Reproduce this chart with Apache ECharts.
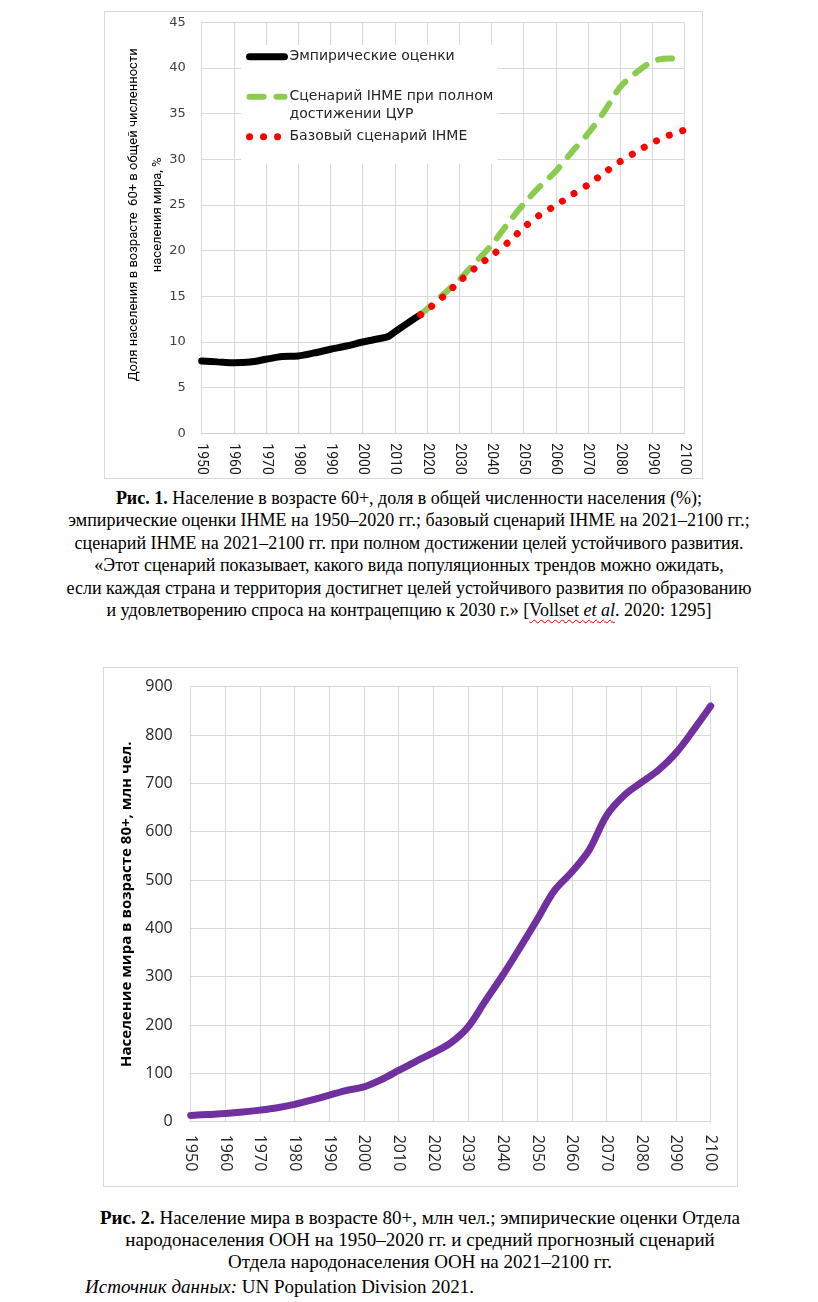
<!DOCTYPE html>
<html>
<head>
<meta charset="utf-8">
<script src="https://cdn.jsdelivr.net/npm/echarts@6/dist/echarts.min.js"></script>
<style>
html,body{margin:0;padding:0;background:#fff;width:818px;height:1302px;overflow:hidden;}
.chart{position:absolute;}
.box{position:absolute;border:1px solid #d9d9d9;pointer-events:none;box-sizing:border-box;}
#c1{left:104px;top:11px;width:599px;height:468px;}
#b1{left:104px;top:11px;width:599px;height:468px;}
#c2{left:103px;top:667px;width:635px;height:520px;}
#b2{left:103px;top:667px;width:635px;height:520px;}
.cap{position:absolute;text-align:center;font-family:'Liberation Serif','Times New Roman',serif;color:#000;white-space:nowrap;}
#cap1{left:0;width:818px;top:487px;font-size:18px;line-height:22.4px;}
#cap2{left:11px;width:818px;top:1207px;font-size:19px;line-height:22px;}
#src{position:absolute;left:85px;top:1276px;font-family:'Liberation Serif','Times New Roman',serif;font-size:19px;line-height:22.4px;white-space:nowrap;}
.wavy{text-decoration:underline wavy #e00000;text-decoration-thickness:1px;text-underline-offset:3px;}
</style>
</head>
<body>
<div id="c1" class="chart"></div>
<div id="b1" class="box"></div>
<div id="cap1" class="cap">
<div><b>Рис. 1.</b> Население в возрасте 60+, доля в общей численности населения (%);</div>
<div>эмпирические оценки IHME на 1950–2020 гг.; базовый сценарий IHME на 2021–2100 гг.;</div>
<div>сценарий IHME на 2021–2100 гг. при полном достижении целей устойчивого развития.</div>
<div>«Этот сценарий показывает, какого вида популяционных трендов можно ожидать,</div>
<div>если каждая страна и территория достигнет целей устойчивого развития по образованию</div>
<div>и удовлетворению спроса на контрацепцию к 2030 г.» [<span class="wavy">Vollset <i>et al</i></span>. 2020: 1295]</div>
</div>
<div id="c2" class="chart"></div>
<div id="b2" class="box"></div>
<div id="cap2" class="cap">
<div><b>Рис. 2.</b> Население мира в возрасте 80+, млн чел.; эмпирические оценки Отдела</div>
<div>народонаселения ООН на 1950–2020 гг. и средний прогнозный сценарий</div>
<div>Отдела народонаселения ООН на 2021–2100 гг.</div>
</div>
<div id="src"><i>Источник данных:</i> UN Population Division 2021.</div>
<script>
// ---------- Chart 1 data ----------
const empYears = [1950, 1955, 1960, 1965, 1970, 1975, 1980, 1985, 1990, 1995, 2000, 2005, 2008, 2010, 2015, 2018];
const empirical = [7.92, 7.82, 7.73, 7.8, 8.1, 8.4, 8.46, 8.8, 9.2, 9.56, 10.0, 10.35, 10.6, 11.1, 12.3, 13.0];
const projYears = [2018, 2020, 2025, 2030, 2035, 2040, 2045, 2050, 2055, 2060, 2065, 2070, 2075, 2080, 2085, 2090, 2095, 2100];
const sdgScenario = [13.0, 13.6, 15.2, 16.8, 18.7, 20.6, 22.9, 25.1, 27.0, 28.7, 30.8, 32.8, 35.2, 37.9, 39.5, 40.7, 41.05, 41.0];
const baseScenario = [13.0, 13.5, 14.95, 16.6, 18.1, 19.45, 20.85, 22.5, 23.9, 24.95, 26.1, 27.2, 28.5, 29.75, 30.8, 31.8, 32.6, 33.2];
const seriesNames1 = ['Эмпирические оценки', 'Сценарий IHME при полном\nдостижении ЦУР', 'Базовый сценарий IHME'];
const yAxis1Name = 'Доля населения в возрасте  60+ в общей численности\nнаселения мира, %';
const xRange = [1950, 2100, 10];
const yRange1 = [0, 45, 5];

// ---------- Chart 2 data ----------
const years2 = [1950, 1955, 1960, 1965, 1970, 1975, 1980, 1985, 1990, 1995, 2000, 2005, 2010, 2015, 2020, 2025, 2030, 2035, 2040, 2045, 2050, 2055, 2060, 2065, 2070, 2075, 2080, 2085, 2090, 2095, 2100];
const pop80 = [13, 15, 17, 20, 24, 29, 36, 45, 55, 65, 72, 87, 106, 125, 143, 163, 196, 250, 303, 360, 419, 479, 517, 563, 634, 675, 702, 728, 763, 810, 860];
const yAxis2Name = 'Население мира в возрасте 80+, млн чел.';
const yRange2 = [0, 900, 100];

function zip(xs, ys) { return xs.map((x, i) => [x, ys[i]]); }

const gridColor = '#d9d9d9';

// ---------- Chart 1 ----------
const ch1 = echarts.init(document.getElementById('c1'), null, {renderer: 'canvas'});
const dashGreen = [14, 13];
const dotRed = [0.1, 13.9];
ch1.setOption({
  animation: false,
  backgroundColor: 'transparent',
  grid: {left: 97.7, top: 11.3, width: 482.8, height: 411, containLabel: false},
  legend: {
    orient: 'vertical', left: 137, top: 34,
    backgroundColor: '#ffffff',
    padding: [3, 4, 18, 5],
    itemWidth: 35, itemHeight: 8, itemGap: 5,
    selectedMode: false,
    itemStyle: {opacity: 0},
    textStyle: {fontFamily: 'DejaVu Sans', fontSize: 14, color: '#262626', lineHeight: 17.5},
    data: [
      {name: seriesNames1[0], lineStyle: {width: 7, color: '#000000', type: 'solid', cap: 'round'}},
      {name: seriesNames1[1], lineStyle: {width: 6, color: '#8ccb4e', type: dashGreen, cap: 'round'}},
      {name: seriesNames1[2], lineStyle: {width: 7, color: '#ff0000', type: dotRed, cap: 'round'}}
    ],
    formatter: function (n) { return n === seriesNames1[1] ? '\n' + n : n; }
  },
  xAxis: {
    type: 'value', min: xRange[0], max: xRange[1], interval: xRange[2],
    axisLine: {show: true, lineStyle: {color: '#cfcfcf', width: 1}},
    axisTick: {show: false},
    splitLine: {show: true, lineStyle: {color: gridColor, width: 1}},
    axisLabel: {rotate: -90, margin: 10, fontFamily: 'Roboto', fontSize: 14, color: '#1a1a1a', formatter: v => String(v)}
  },
  yAxis: {
    type: 'value', min: yRange1[0], max: yRange1[1], interval: yRange1[2],
    name: yAxis1Name, nameLocation: 'middle', nameGap: 32, nameRotate: 90, nameMoveOverlap: false,
    nameTextStyle: {fontFamily: 'Roboto', fontSize: 13, lineHeight: 24, color: '#000', align: 'center', padding: [0, 0, 0, 26]},
    axisLine: {show: true, lineStyle: {color: gridColor}},
    axisTick: {show: false},
    splitLine: {show: true, lineStyle: {color: gridColor, width: 1}},
    axisLabel: {margin: 16, fontFamily: 'DejaVu Sans', fontSize: 13, color: '#404040'}
  },
  series: [
    {name: seriesNames1[0], type: 'line', data: zip(empYears, empirical), smooth: 0.3, symbol: 'none',
     lineStyle: {color: '#000000', width: 7, cap: 'round'}, z: 2},
    {name: seriesNames1[1], type: 'line', data: zip(projYears, sdgScenario), smooth: 0.3, symbol: 'none',
     lineStyle: {color: '#8ccb4e', width: 6, type: dashGreen, cap: 'round'}, z: 3},
    {name: seriesNames1[2], type: 'line', data: zip(projYears, baseScenario), smooth: 0.3, symbol: 'none',
     lineStyle: {color: '#ff0000', width: 7, type: dotRed, cap: 'round'}, z: 4}
  ]
});

// ---------- Chart 2 ----------
const ch2 = echarts.init(document.getElementById('c2'), null, {renderer: 'canvas'});
ch2.setOption({
  animation: false,
  grid: {left: 87.7, top: 19.7, width: 520, height: 435, containLabel: false},
  xAxis: {
    type: 'value', min: xRange[0], max: xRange[1], interval: xRange[2],
    axisLine: {show: true, lineStyle: {color: gridColor, width: 1}},
    axisTick: {show: false},
    splitLine: {show: true, lineStyle: {color: gridColor, width: 1}},
    axisLabel: {rotate: -90, margin: 13, fontFamily: 'Open Sans', fontSize: 16, color: '#262626', formatter: v => String(v)}
  },
  yAxis: {
    type: 'value', min: yRange2[0], max: yRange2[1], interval: yRange2[2],
    name: yAxis2Name, nameLocation: 'middle', nameGap: 53, nameRotate: 90,
    nameTextStyle: {fontFamily: 'Open Sans', fontWeight: 'bold', fontSize: 15, color: '#000'},
    axisLine: {show: true, lineStyle: {color: gridColor}},
    axisTick: {show: false},
    splitLine: {show: true, lineStyle: {color: gridColor, width: 1}},
    axisLabel: {margin: 18, fontFamily: 'Open Sans', fontSize: 16, color: '#262626'}
  },
  series: [
    {name: 'Население 80+', type: 'line', data: zip(years2, pop80), smooth: 0.35, symbol: 'none',
     lineStyle: {color: '#7030a0', width: 7, cap: 'round'}}
  ]
});
</script>
</body>
</html>
